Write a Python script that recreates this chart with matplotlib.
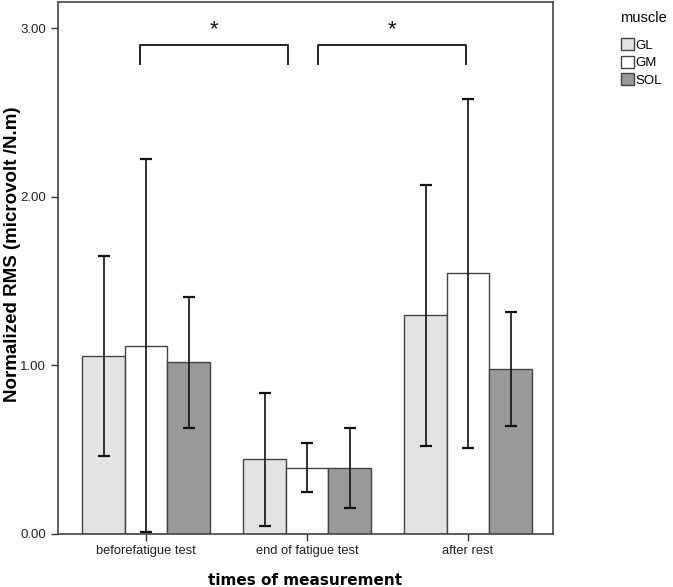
import numpy as np
import matplotlib
matplotlib.use('Agg')
import matplotlib.pyplot as plt
from matplotlib.patches import Patch

plt.rcParams['font.family'] = ['Liberation Sans', 'DejaVu Sans']

# data
times = ['beforefatigue test', 'end of fatigue test', 'after rest']
muscles = ['GL', 'GM', 'SOL']
means = {
    'GL':  [1.054, 0.442, 1.296],
    'GM':  [1.115, 0.389, 1.547],
    'SOL': [1.017, 0.391, 0.975],
}
err_high = {
    'GL':  [1.650, 0.836, 2.068],
    'GM':  [2.224, 0.536, 2.580],
    'SOL': [1.404, 0.628, 1.314],
}
err_low = {
    'GL':  [0.462, 0.046, 0.521],
    'GM':  [0.010, 0.246, 0.508],
    'SOL': [0.628, 0.151, 0.640],
}
colors = {'GL': '#e3e3e3', 'GM': '#ffffff', 'SOL': '#999999'}

# significance brackets (x-start, x-end) in group units
brackets = [(-0.04, 0.88), (1.07, 1.99)]
bracket_lo, bracket_hi = 2.79, 2.90
star_y = 2.93

fig = plt.figure(figsize=(6.73, 5.87), dpi=100)
ax = fig.add_axes([0.0862, 0.0911, 0.7355, 0.9055])

x = np.arange(len(times))
w = 0.264
for i, m in enumerate(muscles):
    xs = x + (i - 1) * w
    vals = np.array(means[m])
    ax.bar(xs, vals, width=w, color=colors[m], edgecolor='#444444', linewidth=1.0, zorder=2)
    lo = vals - np.array(err_low[m])
    hi = np.array(err_high[m]) - vals
    ax.errorbar(xs, vals, yerr=[lo, hi], fmt='none', ecolor='#111111',
                elinewidth=1.2, capsize=4, capthick=1.6, zorder=3)

for (x0, x1) in brackets:
    ax.plot([x0, x0, x1, x1], [bracket_lo, bracket_hi, bracket_hi, bracket_lo],
            color='#222222', linewidth=1.4, zorder=3)
    ax.text((x0 + x1) / 2, star_y, '*', ha='center', va='bottom', fontsize=16,
            color='#111111')

ax.set_xlim(-0.547, 2.528)
ax.set_ylim(0, 3.156)
ax.set_yticks([0, 1, 2, 3])
ax.set_yticklabels(['0.00', '1.00', '2.00', '3.00'], fontsize=9.5, color='#222222')
ax.set_xticks(x)
ax.set_xticklabels(times, fontsize=9.3, color='#222222')
ax.tick_params(axis='both', direction='out', length=5, width=1, color='#333333')
for s in ax.spines.values():
    s.set_color('#444444')
    s.set_linewidth(1.2)

ax.set_xlabel('times of measurement', fontsize=11, fontweight='bold',
              family='DejaVu Sans', labelpad=11)
ax.set_ylabel('Normalized RMS (microvolt /N.m)', fontsize=13.5, fontweight='bold')
ax.yaxis.set_label_coords(-0.074, 0.525)

handles = [Patch(facecolor=colors[m], edgecolor='#444444', linewidth=1.0, label=m)
           for m in muscles]
leg = fig.legend(handles=handles, title='muscle', loc='upper left',
                 bbox_to_anchor=(0.922, 0.982), frameon=False, fontsize=9.5,
                 title_fontsize=10.5, handlelength=1.0, handleheight=1.0,
                 handletextpad=0.15, labelspacing=0.3, alignment='left',
                 borderaxespad=0, borderpad=0)
leg._legend_box.sep = 10

fig.savefig('out.png', dpi=100)
